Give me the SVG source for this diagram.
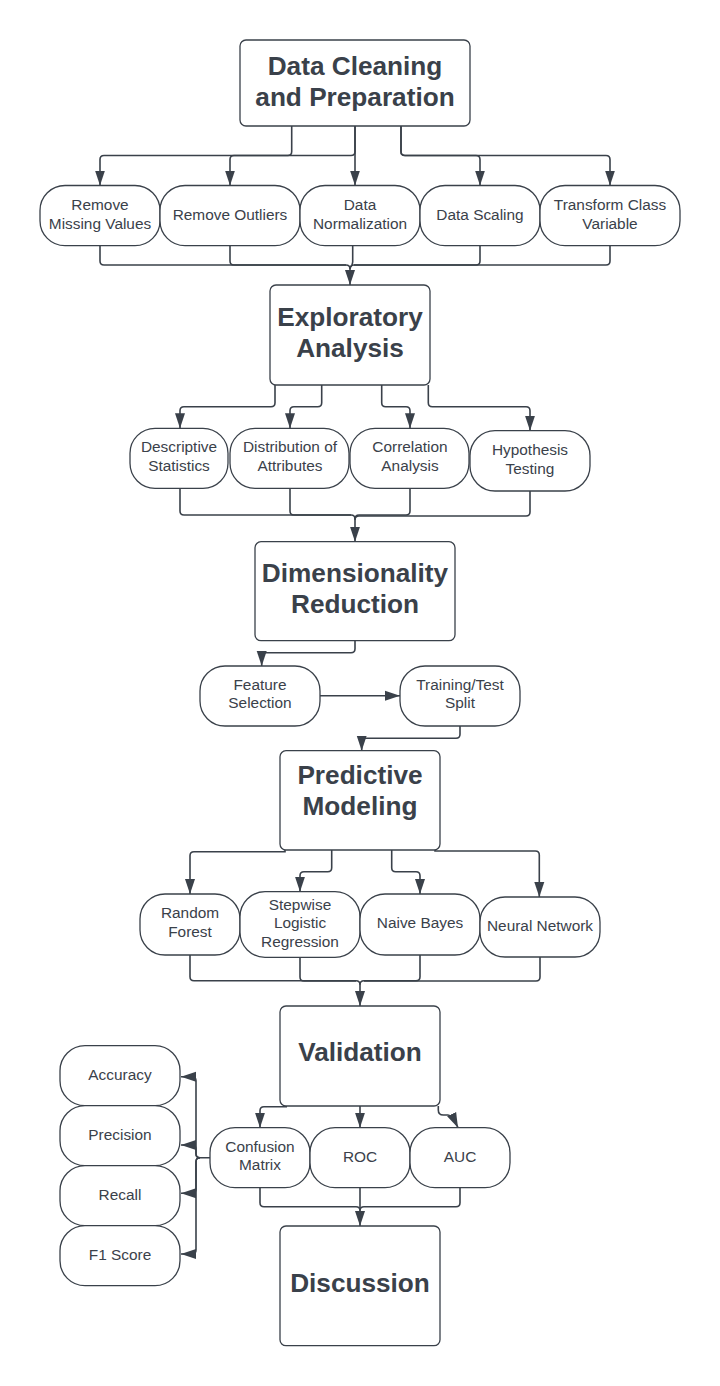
<svg xmlns="http://www.w3.org/2000/svg" width="720" height="1386" viewBox="0 0 720 1386">
<style>
.box{fill:#ffffff;stroke:#3a414a;stroke-width:1.3}
.pill{fill:#ffffff;stroke:#3a414a;stroke-width:1.3}
.t{font-family:"Liberation Sans",Arial,sans-serif;font-size:15.4px;fill:#3a414a;text-anchor:middle}
.h{font-family:"Liberation Sans",Arial,sans-serif;font-size:26.2px;font-weight:bold;fill:#3a414a;text-anchor:middle}
.c{fill:none;stroke:#3a414a;stroke-width:1.6}
.a{marker-end:url(#arr)}
</style>
<defs>
<marker id="arr" markerUnits="userSpaceOnUse" markerWidth="15" markerHeight="11" refX="15" refY="5.5" orient="auto">
<path d="M0,0.5 L15,5.5 L0,10.5 Z" fill="#3a414a"/>
</marker>
</defs>
<rect width="720" height="1386" fill="#ffffff"/>

<g id="connectors">
<path class="c a" d="M291.7,126 L291.7,151.5 Q291.7,155.5 287.7,155.5 L104,155.5 Q100,155.5 100,159.5 L100,185.5"/>
<path class="c a" d="M355,126 L355,151.5 Q355,155.5 351,155.5 L234,155.5 Q230,155.5 230,159.5 L230,185.5"/>
<path class="c a" d="M355,126 L355,185.5"/>
<path class="c a" d="M401,126 L401,151.5 Q401,155.5 405,155.5 L476,155.5 Q480,155.5 480,159.5 L480,185.5"/>
<path class="c a" d="M401,126 L401,151.5 Q401,155.5 405,155.5 L606,155.5 Q610,155.5 610,159.5 L610,185.5"/>
<path class="c a" d="M100,245.7 L100,261 Q100,265 104,265 L346,265 Q350,265 350,269 L350,285"/>
<path class="c" d="M230,245.7 L230,261 Q230,265 234,265 L346,265"/>
<path class="c" d="M352.7,245.7 L352.7,262 Q352.7,265 350,268"/>
<path class="c" d="M480,245.7 L480,261 Q480,265 476,265 L354,265 Q350,265 350,269"/>
<path class="c" d="M610,245.7 L610,261 Q610,265 606,265 L354,265"/>
<path class="c a" d="M275,385 L275,402.7 Q275,406.7 271,406.7 L184,406.7 Q180,406.7 180,410.7 L180,428.3"/>
<path class="c a" d="M321.7,385 L321.7,402.7 Q321.7,406.7 317.7,406.7 L294,406.7 Q290,406.7 290,410.7 L290,428.3"/>
<path class="c a" d="M381.7,385 L381.7,402.7 Q381.7,406.7 385.7,406.7 L406,406.7 Q410,406.7 410,410.7 L410,428.3"/>
<path class="c a" d="M428.3,385 L428.3,402.7 Q428.3,406.7 432.3,406.7 L526,406.7 Q530,406.7 530,410.7 L530,430.7"/>
<path class="c a" d="M180,488 L180,511 Q180,515 184,515 L351,515 Q355,515 355,519 L355,541.7"/>
<path class="c" d="M290,488 L290,511 Q290,515 294,515 L351,515"/>
<path class="c" d="M410,488 L410,511 Q410,515 406,515 L359,515 Q355,515 355,519"/>
<path class="c" d="M530,491 L530,512 Q530,516 526,516 L359,516 Q355,516 355,520"/>
<path class="c a" d="M355,640.7 L355,648.7 Q355,652.7 351,652.7 L265.7,652.7 Q261.7,652.7 261.7,656.7 L261.7,666"/>
<path class="c a" d="M320,695.7 L400,695.7"/>
<path class="c a" d="M460,726 L460,734.3 Q460,738.3 456,738.3 L365.7,738.3 Q361.7,738.3 361.7,742.3 L361.7,750.7"/>
<path class="c a" d="M285,850 L285,851.7 L194,851.7 Q190,851.7 190,855.7 L190,894"/>
<path class="c a" d="M331.7,850 L331.7,867.7 Q331.7,871.7 327.7,871.7 L304,871.7 Q300,871.7 300,875.7 L300,891.7"/>
<path class="c a" d="M391.7,850 L391.7,867.7 Q391.7,871.7 395.7,871.7 L416,871.7 Q420,871.7 420,875.7 L420,894"/>
<path class="c a" d="M435,850 L435,851 L535.3,851 Q539.3,851 539.3,855 L539.3,897"/>
<path class="c a" d="M190,955 L190,976.7 Q190,980.7 194,980.7 L356,980.7 Q360,980.7 360,984.7 L360,1006"/>
<path class="c" d="M300,957.3 L300,977 Q300,981 304,981 L356,981"/>
<path class="c" d="M420,955 L420,976.7 Q420,980.7 416,980.7 L364,980.7 Q360,980.7 360,984.7"/>
<path class="c" d="M540,957 L540,977 Q540,981 536,981 L364,981"/>
<path class="c a" d="M287,1106.7 L264,1106.7 Q260,1106.7 260,1110.7 L260,1127.7"/>
<path class="c a" d="M360,1106 L360,1127.7"/>
<path class="c a" d="M438.3,1106 L438.3,1110 Q438.3,1115 443.3,1115 L448,1115 Q452,1115 458,1127.7"/>
<path class="c a" d="M210,1157.7 L200,1157.7 Q196,1157.7 196,1153.7 L196,1080.7 Q196,1076.7 192,1076.7 L181,1076.7"/>
<path class="c a" d="M200,1157.7 Q196,1157.7 196,1153.7 L196,1149 Q196,1145 192,1145 L181,1145"/>
<path class="c a" d="M200,1157.7 Q196,1157.7 196,1161.7 L196,1189.3 Q196,1193.3 192,1193.3 L181,1193.3"/>
<path class="c a" d="M200,1157.7 Q196,1157.7 196,1161.7 L196,1250 Q196,1254 192,1254 L181,1254"/>
<path class="c a" d="M260,1187.7 L260,1202.7 Q260,1206.7 264,1206.7 L356,1206.7 Q360,1206.7 360,1210.7 L360,1226"/>
<path class="c" d="M360,1187.7 L360,1210"/>
<path class="c" d="M460,1187.7 L460,1202.7 Q460,1206.7 456,1206.7 L364,1206.7 Q360,1206.7 360,1210.7"/>
</g>

<g id="data-cleaning">
<rect class="box" x="240" y="40" width="230" height="86" rx="6"/>
<text class="h" x="355" y="74.5">Data Cleaning</text>
<text class="h" x="355" y="105.5">and Preparation</text>
</g>
<g id="remove-missing">
<rect class="pill" x="40" y="185.5" width="120" height="60.2" rx="25"/>
<text class="t" x="100" y="210">Remove</text>
<text class="t" x="100" y="228.5">Missing Values</text>
</g>
<g id="remove-outliers">
<rect class="pill" x="160" y="185.5" width="140" height="60.2" rx="25"/>
<text class="t" x="230" y="219.5">Remove Outliers</text>
</g>
<g id="data-normalization">
<rect class="pill" x="300" y="185.5" width="120" height="60.2" rx="25"/>
<text class="t" x="360" y="210">Data</text>
<text class="t" x="360" y="228.5">Normalization</text>
</g>
<g id="data-scaling">
<rect class="pill" x="420" y="185.5" width="120" height="60.2" rx="25"/>
<text class="t" x="480" y="219.5">Data Scaling</text>
</g>
<g id="transform-class">
<rect class="pill" x="540" y="185.5" width="140" height="60.2" rx="25"/>
<text class="t" x="610" y="210">Transform Class</text>
<text class="t" x="610" y="228.5">Variable</text>
</g>

<g id="exploratory">
<rect class="box" x="270" y="285" width="160" height="100" rx="6"/>
<text class="h" x="350" y="325.7">Exploratory</text>
<text class="h" x="350" y="356.7">Analysis</text>
</g>
<g id="descriptive">
<rect class="pill" x="130" y="428.3" width="98" height="60" rx="25"/>
<text class="t" x="179" y="452">Descriptive</text>
<text class="t" x="179" y="470.7">Statistics</text>
</g>
<g id="distribution">
<rect class="pill" x="230" y="428.3" width="119" height="60" rx="25"/>
<text class="t" x="290" y="452">Distribution of</text>
<text class="t" x="290" y="470.7">Attributes</text>
</g>
<g id="correlation">
<rect class="pill" x="350" y="428.3" width="119" height="60" rx="25"/>
<text class="t" x="410" y="452">Correlation</text>
<text class="t" x="410" y="470.7">Analysis</text>
</g>
<g id="hypothesis">
<rect class="pill" x="470" y="430.7" width="120" height="60.3" rx="25"/>
<text class="t" x="530" y="455">Hypothesis</text>
<text class="t" x="530" y="473.5">Testing</text>
</g>

<g id="dimensionality">
<rect class="box" x="255" y="541.7" width="200" height="99" rx="6"/>
<text class="h" x="355" y="581.7">Dimensionality</text>
<text class="h" x="355" y="612.7">Reduction</text>
</g>
<g id="feature-selection">
<rect class="pill" x="200" y="666" width="120" height="60" rx="25"/>
<text class="t" x="260" y="690">Feature</text>
<text class="t" x="260" y="708.3">Selection</text>
</g>
<g id="training-test">
<rect class="pill" x="400" y="666" width="120" height="60" rx="25"/>
<text class="t" x="460" y="690">Training/Test</text>
<text class="t" x="460" y="708.3">Split</text>
</g>

<g id="predictive">
<rect class="box" x="280" y="750.7" width="160" height="99.3" rx="6"/>
<text class="h" x="360" y="784">Predictive</text>
<text class="h" x="360" y="815">Modeling</text>
</g>
<g id="random-forest">
<rect class="pill" x="140" y="894" width="100" height="61" rx="25"/>
<text class="t" x="190" y="918.3">Random</text>
<text class="t" x="190" y="936.7">Forest</text>
</g>
<g id="stepwise">
<rect class="pill" x="240" y="891.7" width="120" height="65.6" rx="25"/>
<text class="t" x="300" y="909.5">Stepwise</text>
<text class="t" x="300" y="928.3">Logistic</text>
<text class="t" x="300" y="946.7">Regression</text>
</g>
<g id="naive-bayes">
<rect class="pill" x="360" y="894" width="120" height="61" rx="25"/>
<text class="t" x="420" y="928.3">Naive Bayes</text>
</g>
<g id="neural-network">
<rect class="pill" x="480" y="897" width="120" height="60" rx="25"/>
<text class="t" x="540" y="931">Neural Network</text>
</g>

<g id="validation">
<rect class="box" x="280" y="1006" width="160" height="100" rx="6"/>
<text class="h" x="360" y="1060.7">Validation</text>
</g>
<g id="confusion-matrix">
<rect class="pill" x="210" y="1127.7" width="100" height="60" rx="25"/>
<text class="t" x="260" y="1151.7">Confusion</text>
<text class="t" x="260" y="1170">Matrix</text>
</g>
<g id="roc">
<rect class="pill" x="310" y="1127.7" width="100" height="60" rx="25"/>
<text class="t" x="360" y="1161.5">ROC</text>
</g>
<g id="auc">
<rect class="pill" x="410" y="1127.7" width="100" height="60" rx="25"/>
<text class="t" x="460" y="1161.5">AUC</text>
</g>

<g id="accuracy">
<rect class="pill" x="60" y="1045.7" width="120" height="60" rx="25"/>
<text class="t" x="120" y="1079.5">Accuracy</text>
</g>
<g id="precision">
<rect class="pill" x="60" y="1105.7" width="120" height="60" rx="25"/>
<text class="t" x="120" y="1139.5">Precision</text>
</g>
<g id="recall">
<rect class="pill" x="60" y="1165.7" width="120" height="60" rx="25"/>
<text class="t" x="120" y="1199.5">Recall</text>
</g>
<g id="f1-score">
<rect class="pill" x="60" y="1225.7" width="120" height="60" rx="25"/>
<text class="t" x="120" y="1259.5">F1 Score</text>
</g>

<g id="discussion">
<rect class="box" x="280" y="1226" width="160" height="119.7" rx="6"/>
<text class="h" x="360" y="1291.7">Discussion</text>
</g>
</svg>
